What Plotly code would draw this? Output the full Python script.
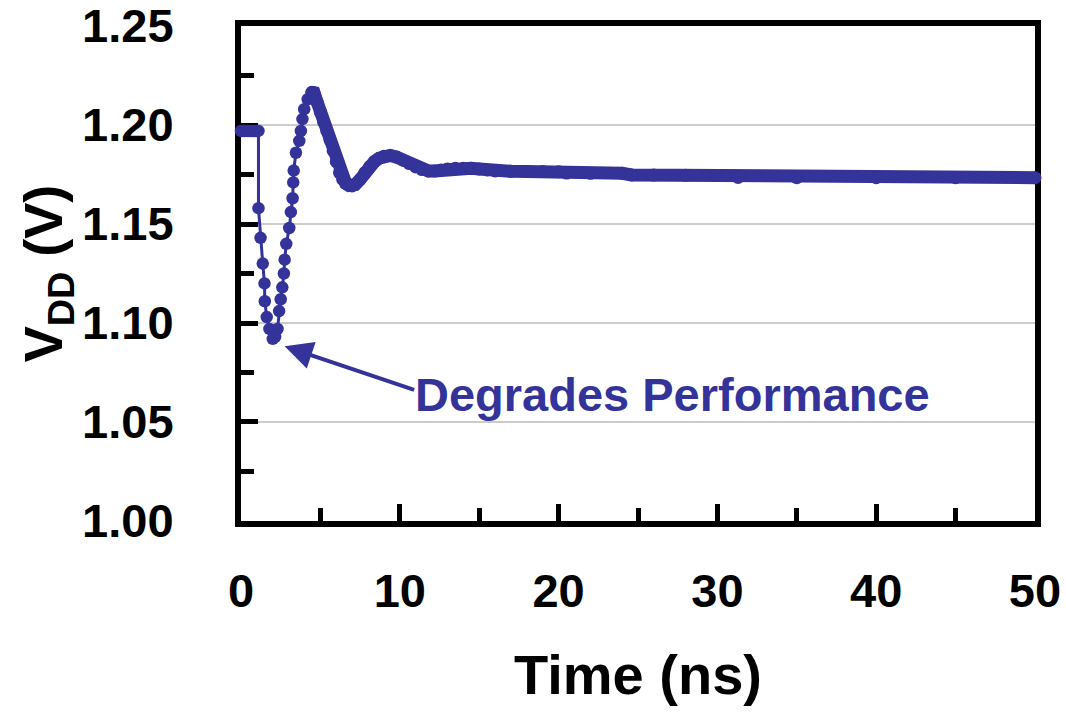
import plotly.graph_objects as go

# Sparse (individually visible markers) section: time in ns, VDD in V
t_sparse = [0.0, 0.1, 0.2, 0.3, 0.4, 0.5, 0.6, 0.7, 0.8, 0.9, 1.0, 1.1,
            1.1, 1.23, 1.37, 1.48, 1.50, 1.62, 1.79, 2.00, 2.15, 2.30, 2.40,
            2.50, 2.60, 2.70, 2.75, 2.85, 3.04, 3.14, 3.25, 3.29, 3.32, 3.46,
            3.67, 3.77, 3.87, 3.98, 4.20, 4.46]
v_sparse = [1.197, 1.197, 1.197, 1.197, 1.197, 1.197, 1.197, 1.197, 1.197, 1.197, 1.197, 1.197,
            1.158, 1.143, 1.130, 1.120, 1.111, 1.103, 1.097, 1.092, 1.093, 1.097, 1.106,
            1.112, 1.118, 1.125, 1.132, 1.140, 1.148, 1.156, 1.163, 1.171, 1.177, 1.186,
            1.192, 1.197, 1.203, 1.208, 1.213, 1.2165]

# Dense section (markers merge into a thick band)
t_dense = [4.46, 4.6, 4.8, 5.0, 5.2, 5.4, 5.6, 5.8, 6.0, 6.2, 6.4, 6.6, 6.8, 7.0,
           7.2, 7.5, 7.8, 8.1, 8.4, 8.7, 9.0, 9.4, 9.8, 10.2, 10.6, 11.0, 11.4,
           11.8, 12.2, 12.6, 13.0, 13.5, 14.0, 14.5, 15.0, 15.5, 16.0, 17, 18, 19,
           20, 20.5, 22, 24, 24.6, 26, 28, 30, 31.1, 31.3, 35, 40, 45, 50]
v_dense = [1.2165, 1.2163, 1.2115, 1.2065, 1.2015, 1.1970, 1.1925, 1.1870, 1.1815,
           1.1760, 1.1725, 1.1705, 1.1695, 1.1692, 1.1700, 1.1725, 1.1760, 1.1790,
           1.1815, 1.1832, 1.1842, 1.1846, 1.1838, 1.1822, 1.1805, 1.1788, 1.1775,
           1.1768, 1.1768, 1.1773, 1.1778, 1.1781, 1.1782, 1.1781, 1.1778, 1.1773,
           1.1768, 1.1766, 1.1765, 1.1765, 1.1764, 1.1757, 1.1756, 1.1756, 1.1748,
           1.1747, 1.1746, 1.1745, 1.1744, 1.1735, 1.1734, 1.1734, 1.1734, 1.1734]

x_ticks = [0, 10, 20, 30, 40, 50]
y_ticks = [1.00, 1.05, 1.10, 1.15, 1.20, 1.25]

annot_text = "Degrades Performance"
annot_tip = (2.75, 1.0882)
annot_tail = (11.0, 1.066)
annot_pos = (27.2, 1.064)

BLUE = "#333399"
FONT = "Liberation Sans, Arial, sans-serif"

fig = go.Figure()
fig.add_trace(go.Scatter(x=t_sparse, y=v_sparse, mode="lines+markers",
                         line=dict(color=BLUE, width=3),
                         marker=dict(color=BLUE, size=12.5),
                         cliponaxis=False, showlegend=False))
fig.add_trace(go.Scatter(x=t_dense, y=v_dense, mode="lines+markers",
                         line=dict(color=BLUE, width=13),
                         marker=dict(color=BLUE, size=13),
                         cliponaxis=False, showlegend=False))

fig.add_annotation(x=annot_tip[0], y=annot_tip[1], ax=annot_tail[0], ay=annot_tail[1],
                   axref="x", ayref="y", xref="x", yref="y", text="",
                   showarrow=True, arrowhead=2, arrowsize=1.4, arrowwidth=4,
                   arrowcolor=BLUE)
fig.add_annotation(x=annot_pos[0], y=annot_pos[1], xref="x", yref="y",
                   text=annot_text, showarrow=False,
                   font=dict(family=FONT, size=47, color=BLUE, weight="bold"))

fig.update_layout(
    width=1066, height=712,
    margin=dict(l=241, r=31, t=26, b=191),
    paper_bgcolor="white", plot_bgcolor="white",
    font=dict(family=FONT, color="black", weight="bold"),
)
fig.update_xaxes(
    range=[0, 50], tickvals=x_ticks, ticktext=[str(v) for v in x_ticks],
    ticks="inside", ticklen=17, tickwidth=5, tickcolor="black",
    minor=dict(dtick=5, ticks="inside", ticklen=13, tickwidth=5, tickcolor="black", showgrid=False),
    showline=True, linewidth=6, linecolor="black", mirror=True,
    showgrid=False, zeroline=False, layer="below traces", automargin=False,
    tickfont=dict(family=FONT, size=47, color="black", weight="bold"),
    ticklabelstandoff=24, ticklabeloverflow="allow",
    title=dict(text="Time (ns)", font=dict(family=FONT, size=56, color="black", weight="bold"),
               standoff=40),
)
fig.update_yaxes(
    range=[0.99999, 1.25001], tickvals=y_ticks, ticktext=[f"{v:.2f}" for v in y_ticks],
    ticks="inside", ticklen=17, tickwidth=5, tickcolor="black",
    minor=dict(tickvals=[1.025, 1.075, 1.125, 1.175, 1.225], ticks="inside", ticklen=13,
               tickwidth=5, tickcolor="black", showgrid=False),
    showline=True, linewidth=6, linecolor="black", mirror=True,
    showgrid=True, gridcolor="#cccccc", gridwidth=1.5, zeroline=False, layer="below traces",
    automargin=False,
    tickfont=dict(family=FONT, size=47, color="black", weight="bold"),
    ticklabelstandoff=52, ticklabeloverflow="allow",
    title=dict(text="V<sub>DD</sub> (V)", font=dict(family=FONT, size=54, color="black", weight="bold"),
               standoff=4),
)

fig.write_html("out.html")
